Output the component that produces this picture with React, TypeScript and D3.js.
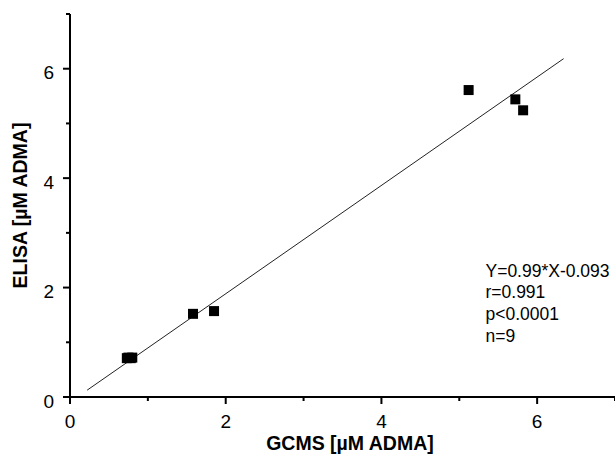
import React from "react";
import * as d3 from "d3";

const gcms = [0.73, 0.75, 0.78, 0.8, 1.58, 1.85, 5.12, 5.72, 5.82];
const elisa = [0.71, 0.72, 0.71, 0.72, 1.52, 1.57, 5.61, 5.44, 5.24];
const majorTicks = [0, 2, 4, 6];
const minorTicks = [1, 3, 5, 7];
const fitSlope = 0.99;
const fitIntercept = -0.093;
const fitRange = [0.22, 6.34];
const statsLines = ["Y=0.99*X-0.093", "r=0.991", "p<0.0001", "n=9"];
const xTitle = "GCMS [µM ADMA]";
const yTitle = "ELISA [µM ADMA]";

const W = 615;
const H = 456;
const FONT = "'Liberation Sans', Arial, sans-serif";

export default function App() {
  const x = d3.scaleLinear().domain([0, 7]).range([70, 615]);
  const y = d3.scaleLinear().domain([0, 7]).range([397, 14]);
  const line = d3
    .line<number>()
    .x((d) => x(d))
    .y((d) => y(fitSlope * d + fitIntercept));
  const pts = gcms.map((g, i) => [g, elisa[i]]);
  const sq = 10;
  return (
    <svg
      width={W}
      height={H}
      style={{ position: "absolute", left: 0, top: 0, background: "#fff" }}
      fontFamily={FONT}
    >
      {/* axes */}
      <line x1={x(0)} x2={x(0)} y1={y(7)} y2={y(0) + 1} stroke="#000" strokeWidth={2} />
      <line x1={x(0) - 1} x2={x(7)} y1={y(0)} y2={y(0)} stroke="#000" strokeWidth={2} />
      {majorTicks.map((t) => (
        <g key={"xm" + t}>
          <line x1={x(t)} x2={x(t)} y1={y(0)} y2={y(0) + 7} stroke="#000" strokeWidth={2} />
          <text x={x(t)} y={428} fontSize={19} textAnchor="middle" fill="#000">
            {t}
          </text>
        </g>
      ))}
      {minorTicks.map((t) => (
        <line key={"xn" + t} x1={x(t)} x2={x(t)} y1={y(0)} y2={y(0) + 4} stroke="#000" strokeWidth={2} />
      ))}
      {majorTicks.map((t) => (
        <g key={"ym" + t}>
          <line x1={x(0) - 7} x2={x(0)} y1={y(t)} y2={y(t)} stroke="#000" strokeWidth={2} />
          <text x={54} y={y(t) + 10.5} fontSize={19} textAnchor="end" fill="#000">
            {t}
          </text>
        </g>
      ))}
      {minorTicks.map((t) => (
        <line key={"yn" + t} x1={x(0) - 4} x2={x(0)} y1={y(t)} y2={y(t)} stroke="#000" strokeWidth={2} />
      ))}
      {/* regression line */}
      <path d={line(fitRange) || ""} stroke="#222" strokeWidth={1} fill="none" />
      {/* points */}
      {pts.map(([g, e], i) => (
        <rect key={i} x={x(g) - sq / 2} y={y(e) - sq / 2} width={sq} height={sq} fill="#000" />
      ))}
      {/* stats */}
      {statsLines.map((s, i) => (
        <text key={s} x={485.5} y={276.7 + i * 21.7} fontSize={17.5} fill="#000">
          {s}
        </text>
      ))}
      {/* titles */}
      <text x={350} y={450} fontSize={19.5} fontWeight="bold" textAnchor="middle" fill="#000">
        {xTitle}
      </text>
      <text
        transform={`translate(27, ${(y(0) + y(7)) / 2}) rotate(-90)`}
        fontSize={19.5}
        fontWeight="bold"
        textAnchor="middle"
        fill="#000"
      >
        {yTitle}
      </text>
    </svg>
  );
}
